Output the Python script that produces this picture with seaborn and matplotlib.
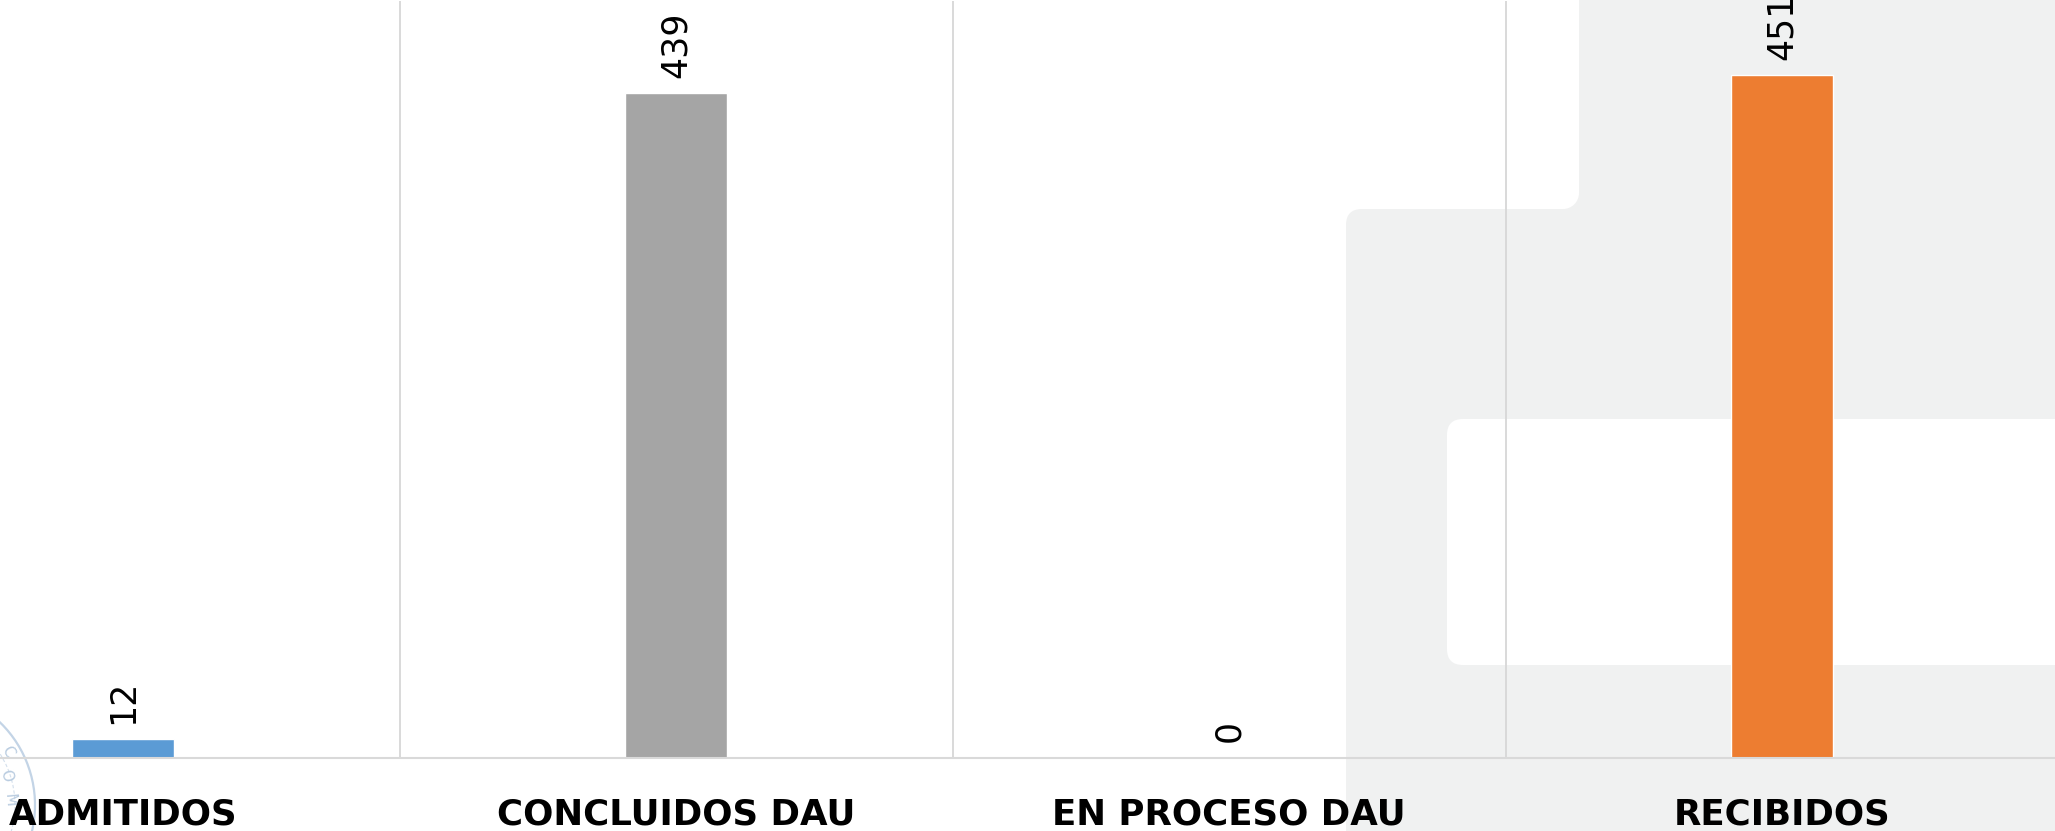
import matplotlib
matplotlib.use("Agg")
import matplotlib.pyplot as plt
import numpy as np
import pandas as pd
import seaborn as sns
from matplotlib.patches import Rectangle, FancyBboxPatch, Circle, Arc
from matplotlib.transforms import IdentityTransform

# datos del grafico
categorias = ["ADMITIDOS", "CONCLUIDOS DAU", "EN PROCESO DAU", "RECIBIDOS"]
valores = [12, 439, 0, 451]
colores = ["#5B9BD5", "#A5A5A5", "#FFC000", "#ED7D31"]

W, H = 2055, 831
sns.set_style("white")
plt.rcParams["font.family"] = ["DejaVu Sans"]

fig = plt.figure(figsize=(W / 100, H / 100), dpi=100, facecolor="white")

# fondo gris claro (marca de agua del documento), en pixeles
gris = "#F0F1F1"
px = IdentityTransform()


def caja(x0, ytop, x1, ybot, color, radio=0.0):
    # coordenadas con y desde arriba -> y desde abajo
    if radio > 0:
        p = FancyBboxPatch((x0, H - ybot), x1 - x0, ybot - ytop,
                           boxstyle=f"round,pad=0,rounding_size={radio}",
                           fc=color, ec="none", transform=px, zorder=-5)
    else:
        p = Rectangle((x0, H - ybot), x1 - x0, ybot - ytop,
                      fc=color, ec="none", transform=px, zorder=-5)
    fig.add_artist(p)


r = 16
caja(1346, 209, 2300, 1100, gris, r)           # bloque inferior
caja(1579, -100, 2300, 240, gris)              # bloque superior
caja(1579 - r, 209 - r, 1579, 209, gris)       # esquina concava
fig.add_artist(Circle((1579 - r, H - (209 - r)), r, fc="white", ec="none",
                      transform=px, zorder=-4))
caja(1447, 419, 2300, 665, "white", r)         # rectangulo blanco interior

# sello azul tenue abajo a la izquierda
fig.add_artist(Arc((-80, H - 805), 230, 230, theta1=-30, theta2=75,
                   color="#C3D4E6", lw=1.6, transform=px, zorder=-3))
fig.add_artist(Arc((-80, H - 805), 190, 190, theta1=-30, theta2=75,
                   color="#D3DFEC", lw=0.8, ls=(0, (3, 2)), transform=px, zorder=-3))
for letra, (lx, ly), rot in [("C", (8, 752), -62), ("O", (6, 776), -75), ("M", (10, 800), -85)]:
    fig.text(lx, H - ly, letra, transform=px, fontsize=11, color="#B9CCE0",
             rotation=rot, ha="center", va="center", zorder=-3)

# ejes: la zona de trazado se sale del recorte por los lados
ax = fig.add_axes([-153.5 / W, (H - 757.5) / H, 2212 / W, 756.5 / H])
ax.set_facecolor("none")

df = pd.DataFrame({"categoria": categorias, "valor": valores})
sns.barplot(data=df, x="categoria", y="valor", hue="categoria",
            palette=colores, width=0.184, legend=False, ax=ax,
            saturation=1)

for cont in ax.containers:
    ax.bar_label(cont, labels=[f"{v:.0f}" for v in cont.datavalues],
                 rotation=90, padding=11, fontsize=25, color="black",
                 clip_on=False)

ax.set_xlim(-0.5, len(categorias) - 0.5)
ax.set_ylim(0, 500)
ax.set_xlabel("")
ax.set_ylabel("")
ax.set_yticks([])

ax.set_xticks(np.arange(len(categorias)))
ax.set_xticklabels(categorias, fontsize=25.7, fontweight="bold", color="black")
ax.tick_params(axis="x", length=0, pad=29)

ax.set_xticks(np.arange(len(categorias) + 1) - 0.5, minor=True)
ax.tick_params(axis="x", which="minor", length=0)
ax.grid(which="minor", axis="x", color="#D9D9D9", lw=1.4)
ax.grid(which="major", visible=False)
ax.set_axisbelow(True)

for s in ["top", "left", "right"]:
    ax.spines[s].set_visible(False)
ax.spines["bottom"].set_color("#D9D9D9")
ax.spines["bottom"].set_linewidth(1.5)

fig.savefig("out.png", dpi=100, facecolor="white")
